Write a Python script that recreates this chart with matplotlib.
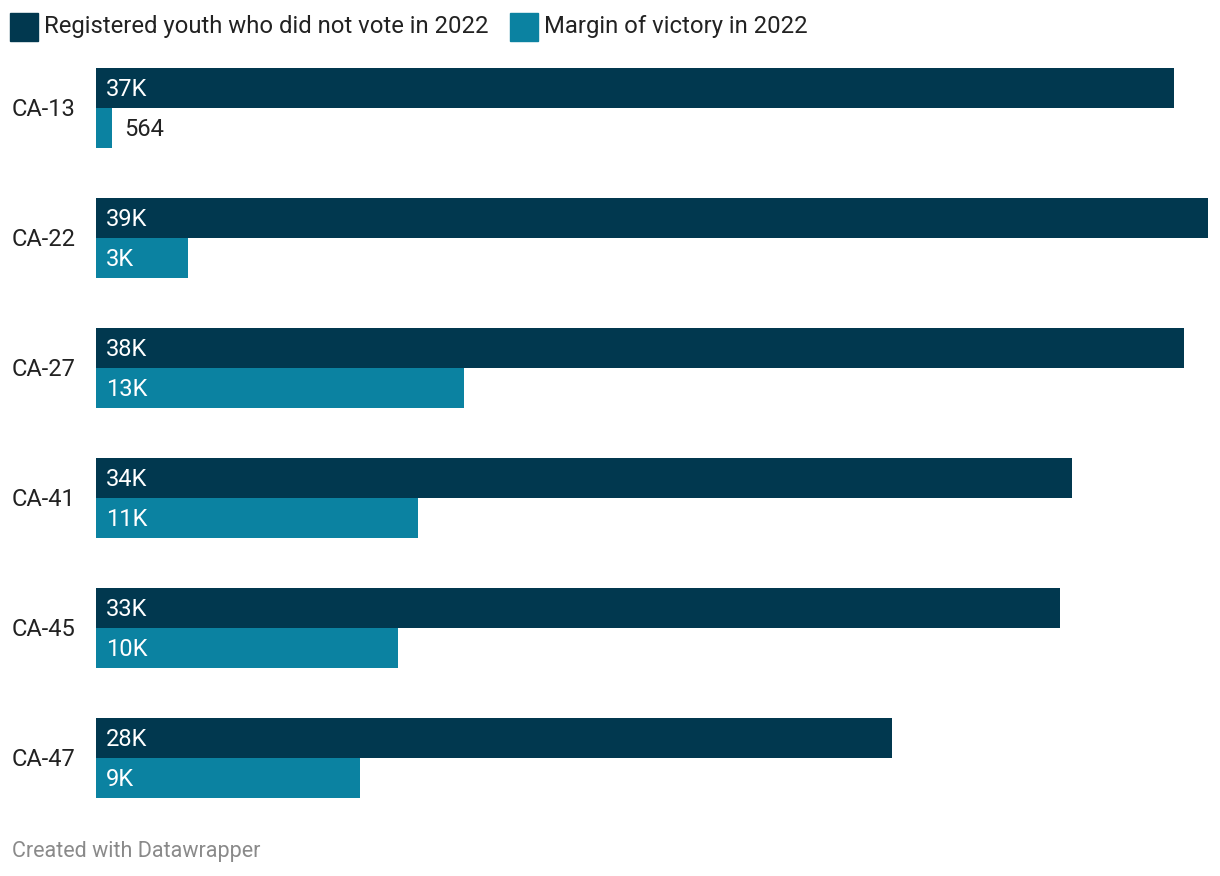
import matplotlib.pyplot as plt

districts = ["CA-13", "CA-22", "CA-27", "CA-41", "CA-45", "CA-47"]
youth_not_voted = [37420, 38600, 37770, 33880, 33460, 27630]
margin = [564, 3190, 12770, 11180, 10490, 9160]

dark = "#01384f"
teal = "#0b82a1"

plt.rcParams['font.family'] = ['Roboto', 'DejaVu Sans']


def fmt(v):
    if v >= 1000:
        return f"{round(v / 1000)}K"
    return str(v)


fig = plt.figure(figsize=(12.2, 8.76), dpi=100)
W, H = 1220, 876
ax = fig.add_axes([96 / W, 1 - 798 / H, (1208 - 96) / W, (798 - 68) / H])

# y in pixel-like units, 130 per group, 40 per bar
ys = [88 + 130 * i for i in range(len(districts))]
ax.barh(ys, youth_not_voted, height=40, color=dark)
ax.barh([y + 40 for y in ys], margin, height=40, color=teal)
ax.set_xlim(0, max(youth_not_voted))
ax.set_ylim(798, 68)
ax.axis("off")

for i, y in enumerate(ys):
    ax.annotate(fmt(youth_not_voted[i]), (0, y + 1), xytext=(10, 0), textcoords="offset pixels",
                color="white", fontsize=17, va="center", ha="left")
    if margin[i] >= 1000:
        ax.annotate(fmt(margin[i]), (0, y + 41), xytext=(10, 0), textcoords="offset pixels",
                    color="white", fontsize=17, va="center", ha="left")
    else:
        ax.annotate(fmt(margin[i]), (margin[i], y + 41), xytext=(12, 0), textcoords="offset pixels",
                    color="#222222", fontsize=17, va="center", ha="left")
    fig.text(12 / W, 1 - (y + 21) / H, districts[i], fontsize=17, color="#222222",
             va="center", ha="left")

# legend
fig.patches.append(plt.Rectangle((10 / W, 1 - 41 / H), 28 / W, 28 / H, color=dark,
                                 transform=fig.transFigure))
fig.text(44 / W, 1 - 27 / H, "Registered youth who did not vote in 2022", fontsize=17.2,
         color="#222222", va="center", ha="left")
fig.patches.append(plt.Rectangle((510 / W, 1 - 41 / H), 28 / W, 28 / H, color=teal,
                                 transform=fig.transFigure))
fig.text(544 / W, 1 - 27 / H, "Margin of victory in 2022", fontsize=17.2,
         color="#222222", va="center", ha="left")

fig.text(12 / W, 1 - 851 / H, "Created with Datawrapper", fontsize=15.5, color="#8a8a8a",
         va="center", ha="left")

fig.savefig("out.png", dpi=100)
